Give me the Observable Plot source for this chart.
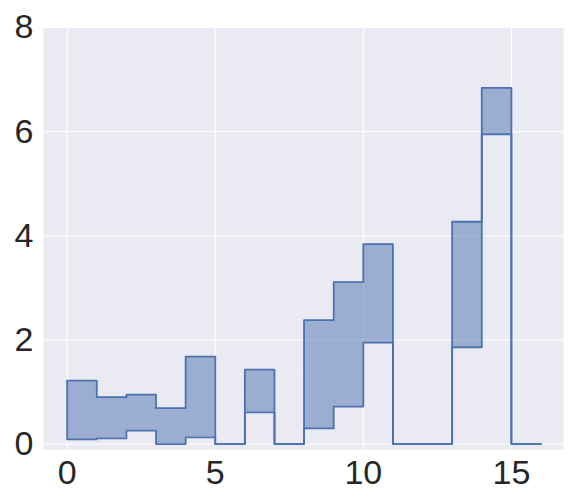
<!DOCTYPE html>
<html>
<head>
<meta charset="utf-8">
<script src="https://cdn.jsdelivr.net/npm/d3@7"></script>
<script src="https://cdn.jsdelivr.net/npm/@observablehq/plot@0.6"></script>
<style>
  html, body { margin: 0; padding: 0; background: #ffffff; }
  #chart { width: 576px; height: 504px; }
  svg { font-family: "Liberation Sans", Arial, sans-serif; }
</style>
</head>
<body>
<div id="chart"></div>
<script>
// Bin edges and step values (matplotlib-style stairs with a baseline)
const edges = [0, 1, 2, 3, 4, 5, 6, 7, 8, 9, 10, 11, 12, 13, 14, 15, 16];
const upper = [1.22, 0.90, 0.95, 0.69, 1.68, 0, 1.43, 0, 2.38, 3.11, 3.84, 0, 0, 4.27, 6.84, 0];
const lower = [0.09, 0.11, 0.26, 0.0, 0.13, 0, 0.61, 0, 0.30, 0.72, 1.95, 0, 0, 1.86, 5.95, 0];
const xTicks = [0, 5, 10, 15];
const yTicks = [0, 2, 4, 6, 8];

// One row per edge; the last edge repeats the last bin's values
const steps = edges.map((e, i) => {
  const j = Math.min(i, upper.length - 1);
  return { x: e, hi: upper[j], lo: lower[j] };
});
const leftEdge = [{ x: edges[0], lo: lower[0], hi: upper[0] }];

const color = "#4c72b0";
const fmt = d3.format("d");

const chart = Plot.plot({
  width: 576,
  height: 504,
  marginLeft: 43,
  marginRight: 13,
  marginTop: 27,
  marginBottom: 55,
  style: { background: "#ffffff", color: "#262626", fontFamily: "Liberation Sans, Arial, sans-serif" },
  x: { domain: [-0.8, 16.76], label: null },
  y: { domain: [-0.104, 8], label: null },
  marks: [
    Plot.frame({ fill: "#eaeaf2", stroke: null }),
    Plot.gridX(xTicks, { stroke: "#ffffff", strokeOpacity: 1, strokeWidth: 1 }),
    Plot.gridY(yTicks, { stroke: "#ffffff", strokeOpacity: 1, strokeWidth: 1 }),
    Plot.areaY(steps, { x: "x", y1: "lo", y2: "hi", curve: "step-after", fill: color, fillOpacity: 0.5 }),
    Plot.lineY(steps, { x: "x", y: "hi", curve: "step-after", stroke: color, strokeWidth: 1.8 }),
    Plot.lineY(steps, { x: "x", y: "lo", curve: "step-after", stroke: color, strokeWidth: 1.8 }),
    Plot.ruleX(leftEdge, { x: "x", y1: "lo", y2: "hi", stroke: color, strokeWidth: 1.8 }),
    Plot.axisX(xTicks, { tickSize: 0, tickPadding: 10, fontSize: 34, label: null, tickFormat: fmt }),
    Plot.axisY(yTicks, { tickSize: 0, tickPadding: 10, fontSize: 34, label: null, tickFormat: fmt })
  ]
});
document.getElementById("chart").appendChild(chart);
</script>
</body>
</html>
